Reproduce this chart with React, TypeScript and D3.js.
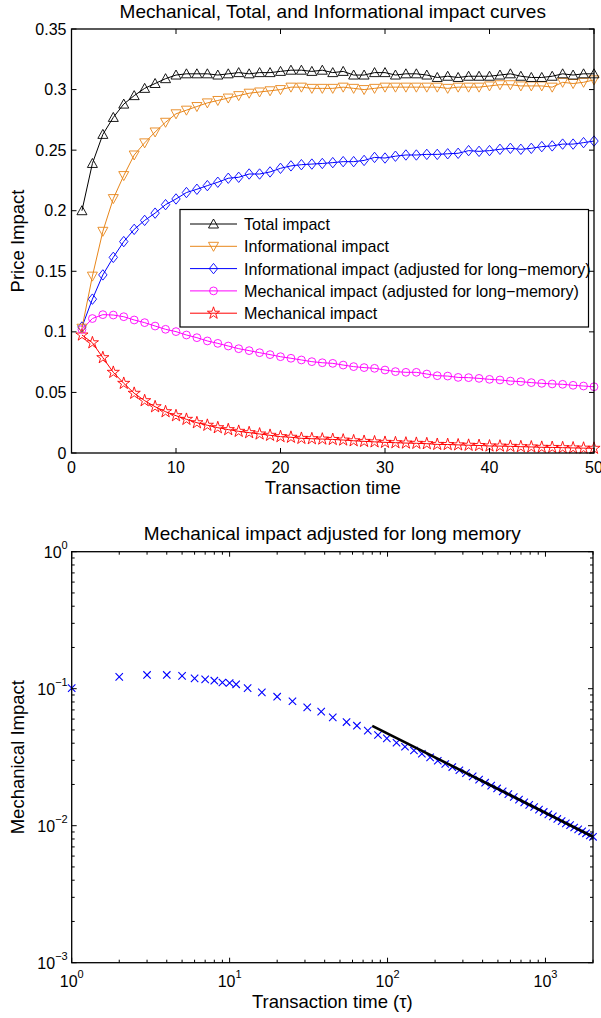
import React from 'react';
import * as d3 from 'd3';

// ---------- Top chart data ----------
const tau: number[] = [1,2,3,4,5,6,7,8,9,10,11,12,13,14,15,16,17,18,19,20,21,22,23,24,25,26,27,28,29,30,31,32,33,34,35,36,37,38,39,40,41,42,43,44,45,46,47,48,49,50];
const totalImpact: number[] = [0.200,0.239,0.263,0.277,0.288,0.295,0.301,0.305,0.309,0.312,0.313,0.313,0.313,0.312,0.313,0.314,0.313,0.314,0.314,0.315,0.316,0.316,0.315,0.316,0.314,0.315,0.312,0.312,0.314,0.314,0.312,0.313,0.313,0.312,0.310,0.311,0.310,0.311,0.311,0.311,0.312,0.313,0.311,0.310,0.310,0.311,0.313,0.312,0.313,0.313];
const infoImpact: number[] = [0.103,0.146,0.183,0.210,0.229,0.246,0.256,0.265,0.273,0.280,0.283,0.286,0.289,0.291,0.293,0.295,0.297,0.298,0.299,0.300,0.302,0.302,0.301,0.301,0.301,0.302,0.301,0.300,0.301,0.302,0.302,0.302,0.302,0.302,0.302,0.301,0.302,0.302,0.302,0.303,0.304,0.304,0.303,0.303,0.303,0.302,0.306,0.305,0.306,0.308];
const infoAdjImpact: number[] = [0.104,0.127,0.147,0.1615,0.1745,0.1846,0.192,0.198,0.205,0.2097,0.215,0.2177,0.2207,0.2235,0.2268,0.2276,0.2303,0.2303,0.232,0.235,0.237,0.238,0.2385,0.239,0.2397,0.2405,0.2405,0.2415,0.244,0.2435,0.245,0.246,0.246,0.2465,0.2465,0.247,0.2474,0.2496,0.249,0.2496,0.2507,0.2515,0.2507,0.2515,0.2529,0.2535,0.255,0.255,0.2562,0.2575];
const mechAdjImpact: number[] = [0.102,0.111,0.1142,0.1139,0.1125,0.1098,0.1076,0.1048,0.1021,0.1002,0.0974,0.0952,0.0925,0.0905,0.0883,0.0861,0.0845,0.0828,0.0812,0.0795,0.0782,0.0768,0.0754,0.0745,0.074,0.0726,0.0713,0.0705,0.0699,0.0685,0.0672,0.0666,0.0666,0.0652,0.0638,0.0635,0.0624,0.0622,0.0616,0.0608,0.0603,0.0594,0.0589,0.0581,0.0575,0.057,0.0567,0.0559,0.0553,0.0547];
const mechImpact: number[] = [0.0974,0.091,0.0787,0.0666,0.0575,0.0493,0.0432,0.0382,0.0341,0.0308,0.0278,0.025,0.0229,0.0209,0.0193,0.0179,0.0168,0.0157,0.0146,0.0135,0.013,0.0121,0.0118,0.0115,0.0112,0.0107,0.0101,0.0096,0.0092,0.0088,0.0085,0.0082,0.008,0.0077,0.0071,0.007,0.0067,0.0064,0.0062,0.0058,0.0057,0.0055,0.0052,0.005,0.0047,0.0046,0.0044,0.0042,0.004,0.0039];

const topXTicks: number[] = [0,10,20,30,40,50];
const topYTicks: number[] = [0,0.05,0.1,0.15,0.2,0.25,0.3,0.35];
const topYTickLabels: string[] = ['0','0.05','0.1','0.15','0.2','0.25','0.3','0.35'];

const legendLabels: string[] = [
  'Total impact',
  'Informational impact',
  'Informational impact (adjusted for long\u2212memory)',
  'Mechanical impact (adjusted for long\u2212memory)',
  'Mechanical impact',
];

// ---------- Bottom chart data ----------
const logTau: number[] = [1,2,3,4,5,6,7,8,9,10,11,13,16,20,25,31,38,45,55,64,75,87,99,114,129,147,165,186,208,232,257,285,314,346,380,415,453,494,536,582,630,680,734,789,848,910,975,1043,1114,1188,1266,1347,1432,1520,1611,1708,1807,1911,2000];
const logMech: number[] = [0.101,0.122,0.126,0.126,0.124,0.119,0.117,0.1144,0.111,0.110,0.1077,0.101,0.094,0.0874,0.081,0.0731,0.068,0.0618,0.0571,0.0537,0.0494,0.0459,0.0434,0.0403,0.0377,0.0354,0.0335,0.0315,0.0298,0.0282,0.0268,0.0254,0.0242,0.0229,0.0217,0.0206,0.0196,0.0187,0.0178,0.0170,0.0162,0.0155,0.0148,0.0142,0.0137,0.0131,0.0126,0.0121,0.0117,0.0112,0.0108,0.0104,0.0101,0.0097,0.0094,0.0091,0.0088,0.0085,0.0083];
const fitTau: number[] = [80, 2000];
const fitMech: number[] = [0.0536, 0.0083];

const logXMajor: number[] = [1, 10, 100, 1000];
const logXExp: string[] = ['0', '1', '2', '3'];
const logYMajor: number[] = [0.001, 0.01, 0.1, 1];
const logYExp: string[] = ['\u22123', '\u22122', '\u22121', '0'];

const FONT = '"Liberation Sans", Arial, Helvetica, sans-serif';

const COLORS = ['#000000', '#E8861A', '#0000FF', '#FF00FF', '#FF0000'];

type MarkerKind = 'up' | 'down' | 'diamond' | 'circle' | 'star';

function Marker({ kind, x, y, color }: { kind: MarkerKind; x: number; y: number; color: string }) {
  const common = { fill: 'none', stroke: color, strokeWidth: 0.9 };
  if (kind === 'up') {
    return <path d={`M${x},${y - 5}L${x + 5},${y + 4}L${x - 5},${y + 4}Z`} {...common} />;
  }
  if (kind === 'down') {
    return <path d={`M${x},${y + 5}L${x + 5},${y - 4}L${x - 5},${y - 4}Z`} {...common} />;
  }
  if (kind === 'diamond') {
    return <path d={`M${x},${y - 5.2}L${x + 4.2},${y}L${x},${y + 5.2}L${x - 4.2},${y}Z`} {...common} />;
  }
  if (kind === 'circle') {
    return <circle cx={x} cy={y} r={3.9} {...common} />;
  }
  const star = d3.symbol().type(d3.symbolStar).size(46)();
  return <path d={star || ''} transform={`translate(${x},${y})`} {...common} />;
}

function TopChart() {
  const L = 71.5, R = 594, T = 29, B = 453;
  const x = d3.scaleLinear().domain([0, 50]).range([L, R]);
  const y = d3.scaleLinear().domain([0, 0.35]).range([B, T]);
  const series = [totalImpact, infoImpact, infoAdjImpact, mechAdjImpact, mechImpact];
  const kinds: MarkerKind[] = ['up', 'down', 'diamond', 'circle', 'star'];
  const line = d3.line<number>().x((_, i) => x(tau[i])).y((d) => y(d));
  const order = [4, 3, 2, 1, 0];
  const lg = { x0: 180, y0: 209.5, w: 408.5, h: 117.5, row0: 224, dy: 22.3 };
  return (
    <g fontFamily={FONT}>
      <text x={(L + R) / 2} y={18} textAnchor="middle" fontSize={19}>Mechanical, Total, and Informational impact curves</text>
      {order.map((si) => (
        <g key={si}>
          <path d={line(series[si]) || ''} fill="none" stroke={COLORS[si]} strokeWidth={1} />
          {series[si].map((v, i) => (
            <Marker key={i} kind={kinds[si]} x={x(tau[i])} y={y(v)} color={COLORS[si]} />
          ))}
        </g>
      ))}
      <rect x={L} y={T} width={R - L} height={B - T} fill="none" stroke="#000" strokeWidth={1.3} />
      {topXTicks.map((t) => (
        <g key={'xt' + t}>
          <line x1={x(t)} x2={x(t)} y1={B} y2={B - 5} stroke="#000" strokeWidth={1} />
          <line x1={x(t)} x2={x(t)} y1={T} y2={T + 5} stroke="#000" strokeWidth={1} />
          <text x={x(t)} y={B + 20} textAnchor="middle" fontSize={16}>{t}</text>
        </g>
      ))}
      {topYTicks.map((t, i) => (
        <g key={'yt' + t}>
          <line x1={L} x2={L + 5} y1={y(t)} y2={y(t)} stroke="#000" strokeWidth={1} />
          <line x1={R} x2={R - 5} y1={y(t)} y2={y(t)} stroke="#000" strokeWidth={1} />
          <text x={L - 5} y={y(t) + 5.5} textAnchor="end" fontSize={16}>{topYTickLabels[i]}</text>
        </g>
      ))}
      <text x={(L + R) / 2} y={494} textAnchor="middle" fontSize={18.5}>Transaction time</text>
      <text transform={`translate(24,${(T + B) / 2}) rotate(-90)`} textAnchor="middle" fontSize={18.5}>Price Impact</text>
      <rect x={lg.x0} y={lg.y0} width={lg.w} height={lg.h} fill="#fff" stroke="#000" strokeWidth={1.2} />
      {legendLabels.map((lab, i) => {
        const cy = lg.row0 + i * lg.dy;
        return (
          <g key={lab}>
            <line x1={190} x2={237} y1={cy} y2={cy} stroke={COLORS[i]} strokeWidth={1} />
            <Marker kind={kinds[i]} x={213.5} y={cy} color={COLORS[i]} />
            <text x={244} y={cy + 6} fontSize={16.1}>{lab}</text>
          </g>
        );
      })}
    </g>
  );
}

function BottomChart() {
  const L = 71.7, R = 593, T = 551.7, B = 962.7;
  const x = d3.scaleLog().domain([1, 2000]).range([L, R]);
  const y = d3.scaleLog().domain([0.001, 1]).range([B, T]);
  const fitLine = d3.line<number>().x((_, i) => x(fitTau[i])).y((d) => y(d));
  const xMinor: number[] = [];
  [1, 10, 100, 1000].forEach((dec) => {
    for (let k = 2; k <= 9; k++) if (dec * k <= 2000) xMinor.push(dec * k);
  });
  const yMinor: number[] = [];
  [0.001, 0.01, 0.1].forEach((dec) => {
    for (let k = 2; k <= 9; k++) yMinor.push(dec * k);
  });
  return (
    <g fontFamily={FONT}>
      <text x={(L + R) / 2} y={540} textAnchor="middle" fontSize={19}>Mechanical impact adjusted for long memory</text>
      {logTau.map((t, i) => {
        const cx = x(t), cy = y(logMech[i]), s = 3.7;
        return (
          <path key={i} d={`M${cx - s},${cy - s}L${cx + s},${cy + s}M${cx - s},${cy + s}L${cx + s},${cy - s}`} stroke="#0000FF" strokeWidth={1.1} fill="none" />
        );
      })}
      <path d={fitLine(fitMech) || ''} stroke="#000" strokeWidth={2.6} fill="none" />
      <rect x={L} y={T} width={R - L} height={B - T} fill="none" stroke="#000" strokeWidth={1.3} />
      {xMinor.map((t) => (
        <g key={'xm' + t}>
          <line x1={x(t)} x2={x(t)} y1={B} y2={B - 3} stroke="#000" strokeWidth={1} />
          <line x1={x(t)} x2={x(t)} y1={T} y2={T + 3} stroke="#000" strokeWidth={1} />
        </g>
      ))}
      {yMinor.map((t) => (
        <g key={'ym' + t}>
          <line x1={L} x2={L + 3} y1={y(t)} y2={y(t)} stroke="#000" strokeWidth={1} />
          <line x1={R} x2={R - 3} y1={y(t)} y2={y(t)} stroke="#000" strokeWidth={1} />
        </g>
      ))}
      {logXMajor.map((t, i) => (
        <g key={'xM' + t}>
          <line x1={x(t)} x2={x(t)} y1={B} y2={B - 5} stroke="#000" strokeWidth={1} />
          <line x1={x(t)} x2={x(t)} y1={T} y2={T + 5} stroke="#000" strokeWidth={1} />
          <text x={x(t)} y={B + 24} textAnchor="middle" fontSize={16}>
            10<tspan dy={-9} fontSize={11}>{logXExp[i]}</tspan>
          </text>
        </g>
      ))}
      {logYMajor.map((t, i) => (
        <g key={'yM' + t}>
          <line x1={L} x2={L + 5} y1={y(t)} y2={y(t)} stroke="#000" strokeWidth={1} />
          <line x1={R} x2={R - 5} y1={y(t)} y2={y(t)} stroke="#000" strokeWidth={1} />
          <text x={L - 4} y={y(t) + 6} textAnchor="end" fontSize={16}>
            10<tspan dy={-9} fontSize={11}>{logYExp[i]}</tspan>
          </text>
        </g>
      ))}
      <text x={(L + R) / 2} y={1008} textAnchor="middle" fontSize={18.5}>Transaction time (τ)</text>
      <text transform={`translate(24,${(T + B) / 2}) rotate(-90)`} textAnchor="middle" fontSize={18.5}>Mechanical Impact</text>
    </g>
  );
}

export default function App() {
  return (
    <div style={{ position: 'absolute', left: 0, top: 0, width: 601, height: 1018, background: '#fff' }}>
      <svg width={601} height={1018} style={{ display: 'block' }}>
        <rect x={0} y={0} width={601} height={1018} fill="#fff" />
        <TopChart />
        <BottomChart />
      </svg>
    </div>
  );
}
